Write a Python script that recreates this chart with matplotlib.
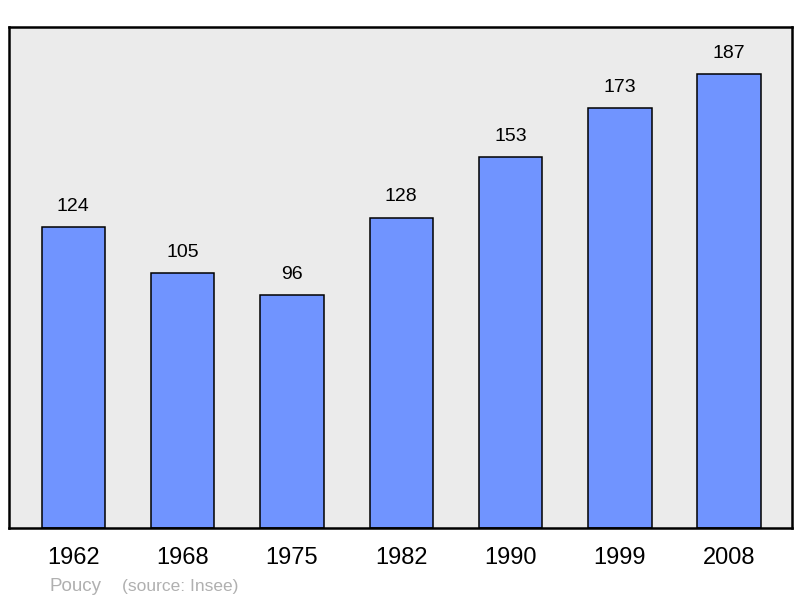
import matplotlib.pyplot as plt

# data
years = ['1962', '1968', '1975', '1982', '1990', '1999', '2008']
population = [124, 105, 96, 128, 153, 173, 187]
town = 'Poucy'
source = '(source: Insee)'

plt.rcParams['font.family'] = ['Liberation Sans', 'DejaVu Sans']

fig = plt.figure(figsize=(8, 5.98), dpi=100)
ax = fig.add_axes([0.011, 0.117, 0.979, 0.838])
ax.set_facecolor('#ebebeb')

x = range(len(years))
ax.bar(x, population, width=0.58, color='#7094ff', edgecolor='black', linewidth=1.1, zorder=2)

# value labels above bars
for i, v in zip(x, population):
    ax.text(i, v + 5, str(v), ha='center', va='bottom', fontsize=14)

ax.set_xlim(-0.59, 6.575)
ax.set_ylim(0, 206.6)
ax.set_xticks(list(x))
ax.set_xticklabels(years, fontsize=17)
ax.tick_params(axis='x', length=0, pad=14)
ax.set_yticks([])
for s in ax.spines.values():
    s.set_linewidth(1.8)

fig.text(0.094, 0.011, town, ha='center', fontsize=13.5, color='#b0b0b0')
fig.text(0.152, 0.011, source, ha='left', fontsize=12.5, color='#b0b0b0')

fig.savefig('out.png', dpi=100)
